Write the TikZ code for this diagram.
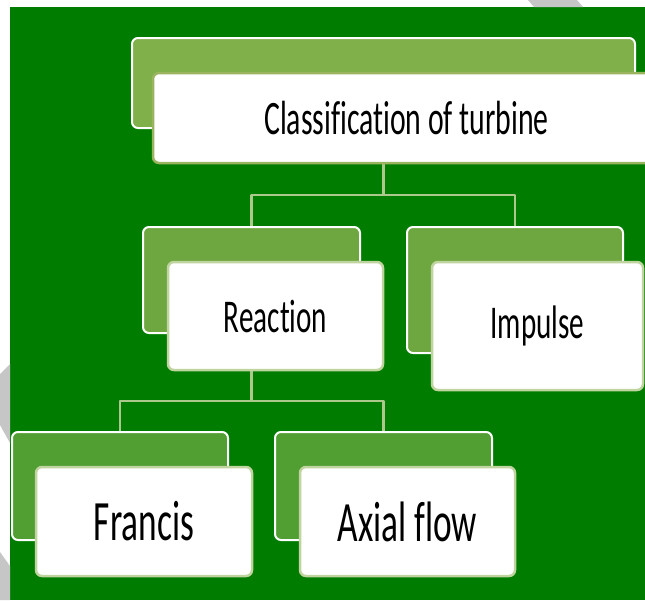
\documentclass[tikz,border=0pt]{standalone}
\usepackage{fontspec}
\newfontfamily\boxfont[FakeStretch=0.62, Ligatures=CommonOff]{Carlito}
\definecolor{bggreen}{RGB}{0,125,0}
\definecolor{topback}{RGB}{127,176,74}
\definecolor{midback}{RGB}{110,167,64}
\definecolor{lowback}{RGB}{81,158,51}
\definecolor{topline}{RGB}{155,180,95}
\definecolor{frontline}{RGB}{192,212,160}
\definecolor{linkline}{RGB}{172,200,140}
\definecolor{streak}{RGB}{198,198,198}

\begin{document}
\begin{tikzpicture}[
        x = 1pt, y = -1pt, % pixel grid, y downwards
        line join = round
      ]

      \tikzstyle{back}=[rectangle, rounded corners=6pt, draw=white, line width=2pt, inner sep=0pt]
      \tikzstyle{front}=[rectangle, rounded corners=6pt, fill=white, draw=frontline, line width=2.5pt, inner sep=0pt]
      \tikzstyle{link}=[draw=linkline, line width=2.5pt]

      \useasboundingbox (0,0) rectangle (645,600);
      \clip (0,0) rectangle (645,600);
      \fill[bggreen] (10,7) rectangle (645,600);

      % grey streaks in the margins
      \fill[streak] (528,0) -- (577,0) -- (583,7) -- (534,7) -- cycle;
      \fill[streak] (0,374) -- (10,364) -- (10,443) -- (0,425) -- cycle;
      \fill[streak] (0,552) -- (10,566) -- (10,600) -- (0,600) -- cycle;

      % back boxes
      \node[back, fill=topback, minimum width=503pt, minimum height=90pt] (clsback) at (383.5,83) {};
      \node[back, fill=midback, minimum width=217pt, minimum height=106pt] (reactback) at (251.5,280) {};
      \node[back, fill=midback, minimum width=216pt, minimum height=126pt] (impback) at (515,290) {};
      \node[back, fill=lowback, minimum width=216pt, minimum height=108pt] (francisback) at (120,486) {};
      \node[back, fill=lowback, minimum width=217pt, minimum height=108pt] (axialback) at (383.5,486) {};

      % tree lines
      \coordinate (j1) at (383.5,195);
      \coordinate (j2) at (251.5,401);
      \path[link] (clsback.south) -- (j1) -| (reactback.north);
      \path[link] (j1) -| (impback.north);
      \path[link] (reactback.south) -- (j2) -| (francisback.north);
      \path[link] (j2) -| (axialback.north);

      % front boxes
      \node[front, draw=topline, minimum width=507pt, minimum height=90pt,
        font=\boxfont\fontsize{48}{50}\selectfont] (cls) at ([shift={(23,35)}]clsback.center) {Classification of turbine};
      \node[front, minimum width=215pt, minimum height=108pt,
        font=\boxfont\fontsize{47}{50}\selectfont] (react) at ([shift={(24,36)}]reactback.center) {Reaction};
      \node[front, minimum width=211pt, minimum height=128pt,
        font=\boxfont\fontsize{47}{50}\selectfont] (imp) at ([shift={(22.5,36)}]impback.center) {Impulse};
      \node[front, minimum width=216pt, minimum height=109pt,
        font=\boxfont\fontsize{57}{60}\selectfont] (francis) at ([shift={(24,35.5)}]francisback.center) {Francis};
      \node[front, minimum width=215pt, minimum height=109pt,
        font=\boxfont\fontsize{57}{60}\selectfont] (axial) at ([shift={(24,35.5)}]axialback.center) {Axial flow};

    \end{tikzpicture}
\end{document}
